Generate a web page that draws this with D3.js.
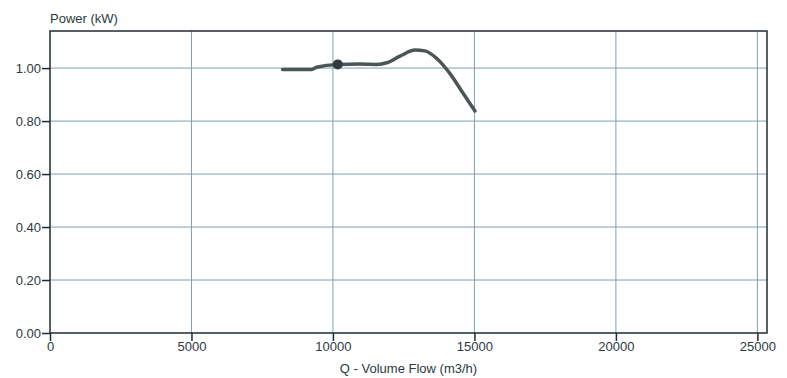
<!DOCTYPE html>
<html lang="en">
  <head>
    <meta charset="UTF-8" />
    <script src="https://d3js.org/d3.v7.min.js"></script>
    <title>Power curve</title>
    <style>
      body { margin: 0; background: #fff; }
      text { font-family: "Liberation Sans", Arial, sans-serif; fill: #2b3a40; }
    </style>
  </head>
  <body>
    <script>
      // curve
      let flow = [8220, 9250, 9420, 10170, 10950, 11540, 11900, 12370, 12900, 13250, 13660, 14130, 14600, 15020];
      let power = [0.995, 0.995, 1.003, 1.014, 1.015, 1.014, 1.02, 1.045, 1.068, 1.065, 1.037, 0.98, 0.905, 0.838];
      let markerQ = [10170];
      let markerP = [1.014];
      let xTicks = [0, 5000, 10000, 15000, 20000, 25000];
      let yTicks = [0, 0.2, 0.4, 0.6, 0.8, 1.0];

      let width = 787, height = 378;
      let plotLeft = 50, plotRight = 767, plotTop = 31, plotBottom = 333;

      let svg = d3
        .select("body")
        .append("svg")
        .attr("width", width)
        .attr("height", height);

      let x = d3.scaleLinear().domain([0, 25340]).range([plotLeft, plotRight]);
      let y = d3.scaleLinear().domain([0, 1.14]).range([plotBottom, plotTop]);

      // grid
      svg.append("g")
        .selectAll("line")
        .data(xTicks.slice(1))
        .enter()
        .append("line")
        .attr("x1", (d) => x(d))
        .attr("x2", (d) => x(d))
        .attr("y1", plotTop)
        .attr("y2", plotBottom)
        .attr("stroke", "#7f9fb2")
        .attr("stroke-width", 1);

      svg.append("g")
        .selectAll("line")
        .data(yTicks.slice(1))
        .enter()
        .append("line")
        .attr("x1", plotLeft)
        .attr("x2", plotRight)
        .attr("y1", (d) => y(d))
        .attr("y2", (d) => y(d))
        .attr("stroke", "#7f9fb2")
        .attr("stroke-width", 1);

      // axes
      let xAxis = svg.append("g")
        .attr("transform", `translate(0,${plotBottom})`)
        .call(d3.axisBottom(x).tickValues(xTicks).tickFormat(d3.format("d")).tickSize(8).tickSizeOuter(0));
      let yAxis = svg.append("g")
        .attr("transform", `translate(${plotLeft},0)`)
        .call(d3.axisLeft(y).tickValues(yTicks).tickFormat(d3.format(".2f")).tickSize(8).tickSizeOuter(0));

      [xAxis, yAxis].forEach((a) => {
        a.select(".domain").remove();
        a.selectAll("line").attr("stroke", "#1e2d33").attr("stroke-width", 1.5);
        a.selectAll("text").style("font-size", "13px").attr("fill", "#2b3a40");
      });
      xAxis.selectAll("text").attr("dy", "0.6em").attr("y", 10);
      yAxis.selectAll("text").attr("x", -9);

      // frame
      svg.append("rect")
        .attr("x", plotLeft)
        .attr("y", plotTop)
        .attr("width", plotRight - plotLeft)
        .attr("height", plotBottom - plotTop)
        .attr("fill", "none")
        .attr("stroke", "#1e2d33")
        .attr("stroke-width", 1.5);

      // curve
      let line = d3.line()
        .x((d, i) => x(flow[i]))
        .y((d, i) => y(power[i]))
        .curve(d3.curveMonotoneX);

      svg.append("path")
        .datum(flow)
        .attr("d", line)
        .attr("fill", "none")
        .attr("stroke", "#4d5456")
        .attr("stroke-width", 3.5)
        .attr("stroke-linecap", "round");

      svg.append("g")
        .selectAll("circle")
        .data(markerQ)
        .enter()
        .append("circle")
        .attr("cx", (d) => x(d))
        .attr("cy", (d, i) => y(markerP[i]))
        .attr("r", 5)
        .attr("fill", "#333a3d");

      // titles
      svg.append("text")
        .attr("x", 50)
        .attr("y", 23)
        .style("font-size", "13px")
        .text("Power (kW)");

      svg.append("text")
        .attr("x", (plotLeft + plotRight) / 2)
        .attr("y", 373)
        .attr("text-anchor", "middle")
        .style("font-size", "13px")
        .text("Q - Volume Flow (m3/h)");
    </script>
  </body>
</html>
